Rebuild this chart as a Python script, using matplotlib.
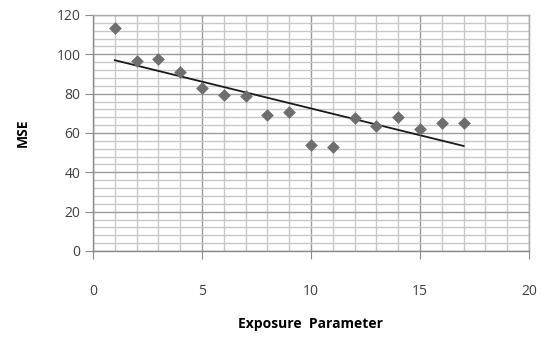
import numpy as np
import matplotlib
matplotlib.use("Agg")
import matplotlib.pyplot as plt
from matplotlib.ticker import MultipleLocator

exposure = [1, 2, 3, 4, 5, 6, 7, 8, 9, 10, 11, 12, 13, 14, 15, 16, 17]
mse = [113.5, 96.6, 97.4, 91.0, 83.0, 79.3, 78.8, 69.3, 70.7, 54.0, 52.9, 67.8, 63.6, 68.0, 62.2, 65.2, 65.2]

plt.rcParams['font.family'] = ['Open Sans', 'DejaVu Sans']

fig = plt.figure(figsize=(5.42, 3.39), dpi=100)
ax = fig.add_axes([0.1716, 0.2596, 0.8044, 0.6962])

x = np.array(exposure)
y = np.array(mse)
slope, icpt = np.polyfit(x, y, 1)
xt = np.array([x.min(), x.max()])
ax.plot(xt, slope * xt + icpt, color='#1a1a1a', lw=1.3, zorder=3)
ax.scatter(x, y, marker='D', s=42, color='#6e6e6e', zorder=4, linewidths=0)

ax.set_xlim(0, 20)
ax.set_ylim(0, 120)
ax.xaxis.set_major_locator(MultipleLocator(5))
ax.xaxis.set_minor_locator(MultipleLocator(1))
ax.yaxis.set_major_locator(MultipleLocator(20))
ax.yaxis.set_minor_locator(MultipleLocator(4))
ax.grid(which='major', color='#9a9a9a', lw=1.0, zorder=1)
ax.grid(which='minor', color='#c8c8c8', lw=1.0, zorder=0)
ax.set_axisbelow(True)

for s in ax.spines.values():
    s.set_color('#a8a8a8')
    s.set_linewidth(1.0)
ax.spines['left'].set_color('#8a8a8a')
ax.spines['bottom'].set_color('#8a8a8a')

ax.tick_params(which='minor', length=0)
ax.tick_params(axis='x', which='major', direction='out', length=6, color='#8a8a8a',
               pad=18, labelsize=10, labelcolor='#404040')
ax.tick_params(axis='y', which='major', direction='out', length=6, color='#8a8a8a',
               pad=3, labelsize=10, labelcolor='#404040')

ax.set_xlabel('Exposure  Parameter', fontsize=10, fontweight='bold', va='center')
ax.xaxis.set_label_coords(0.5, -0.31)
ax.set_ylabel('MSE', fontsize=10, fontweight='bold', va='center')
ax.yaxis.set_label_coords(-0.16, 0.5)

fig.savefig('out.png', dpi=100)
